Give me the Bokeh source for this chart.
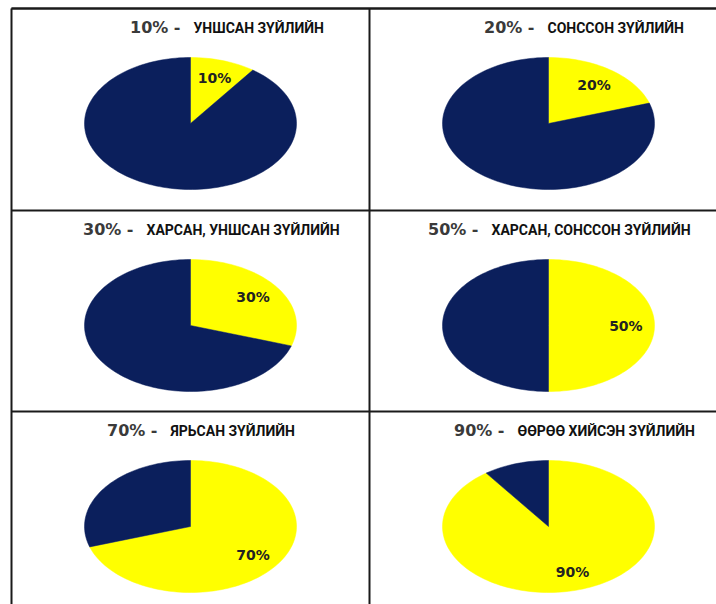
import numpy as np
from bokeh.plotting import figure
from bokeh.models import Range1d, ColumnDataSource
from bokeh.embed import file_html
from bokeh.resources import INLINE
from bokeh.core.properties import value

# ---- data ----
shares = [10, 20, 30, 50, 70, 90]
share_labels = ["10%", "20%", "30%", "50%", "70%", "90%"]
title_prefix = ["10% -", "20% -", "30% -", "50% -", "70% -", "90% -"]
title_names = ["УНШСАН ЗҮЙЛИЙН", "СОНССОН ЗҮЙЛИЙН", "ХАРСАН, УНШСАН ЗҮЙЛИЙН",
               "ХАРСАН, СОНССОН ЗҮЙЛИЙН", "ЯРЬСАН ЗҮЙЛИЙН", "ӨӨРӨӨ ХИЙСЭН ЗҮЙЛИЙН"]

# ---- layout (page pixel coordinates) ----
W, H = 716, 604
X_START, Y_START = 0, 0
col_left = [11, 369]
row_top = [8, 210, 411]
RIGHT, BOTTOM = X_START + W, Y_START + H
CX, CY = 179, 115          # pie centre relative to panel corner
RX, RY = 106, 66           # ellipse radii
TITLE_DY = 19
prefix_end = [169, 165, 122, 109, 146, 135]
NAME_GAP = 13
LABEL_R = 0.73

YELLOW = "#ffff00"
NAVY = "#0b1f5c"
TEXT = "#222222"

p = figure(width=W, height=H, x_range=Range1d(X_START, RIGHT),
           y_range=Range1d(BOTTOM, Y_START), output_backend="svg",
           toolbar_location=None, min_border=0)
p.axis.visible = False
p.grid.visible = False
p.outline_line_color = None
p.background_fill_color = "white"
p.border_fill_color = "white"


def arc_poly(cx, cy, a0, a1):
    # angles in degrees, clockwise from 12 o'clock, on the squashed circle
    n = max(4, int(abs(a1 - a0) / 2))
    t = np.radians(np.linspace(a0, a1, n))
    xs = [cx] + list(cx + RX * np.sin(t)) + [cx]
    ys = [cy] + list(cy - RY * np.cos(t)) + [cy]
    return xs, ys


pxs, pys, pcol = [], [], []
lx, ly, ltxt = [], [], []
tx1, tx2, ty, t1, t2 = [], [], [], [], []
for i, v in enumerate(shares):
    r, c = divmod(i, 2)
    ox, oy = col_left[c], row_top[r]
    cx, cy = ox + CX, oy + CY
    a = 360.0 * v / 100.0
    xs, ys = arc_poly(cx, cy, 0, a)
    pxs.append(xs); pys.append(ys); pcol.append(YELLOW)
    xs, ys = arc_poly(cx, cy, a, 360)
    pxs.append(xs); pys.append(ys); pcol.append(NAVY)
    mid = np.radians(a / 2)
    lx.append(cx + LABEL_R * RX * np.sin(mid))
    ly.append(cy - LABEL_R * RY * np.cos(mid))
    ltxt.append(share_labels[i])
    tx1.append(ox + prefix_end[i]); tx2.append(ox + prefix_end[i] + NAME_GAP)
    ty.append(oy + TITLE_DY)
    t1.append(title_prefix[i]); t2.append(title_names[i])

p.patches(xs="xs", ys="ys", fill_color="c", line_color="c", line_width=0.5,
          source=ColumnDataSource(dict(xs=pxs, ys=pys, c=pcol)))

p.text(x=lx, y=ly, text=ltxt, text_align="center", text_baseline="middle",
       text_font=value("DejaVu Sans"), text_font_style="bold",
       text_font_size="14px", text_color=TEXT)
p.text(x=tx1, y=ty, text=t1, text_align="right", text_baseline="middle",
       text_font=value("DejaVu Sans"), text_font_style="bold",
       text_font_size="16px", text_color="#3a3a3a")
p.text(x=tx2, y=ty, text=t2, text_align="left", text_baseline="middle",
       text_font=value("Roboto"), text_font_style="bold",
       text_font_size="14px", text_color="#111111")

# grid borders
bx0 = [col_left[0], col_left[0], col_left[1]] + [col_left[0]] * 3
bx1 = [col_left[0], RIGHT, col_left[1]] + [RIGHT] * 3
by0 = [row_top[0], row_top[0], row_top[0]] + row_top
by1 = [BOTTOM, row_top[0], BOTTOM] + row_top
p.segment(x0=bx0, y0=by0, x1=bx1, y1=by1, line_color="#1a1a1a", line_width=2)

open("out.html", "w").write(file_html(p, INLINE))
